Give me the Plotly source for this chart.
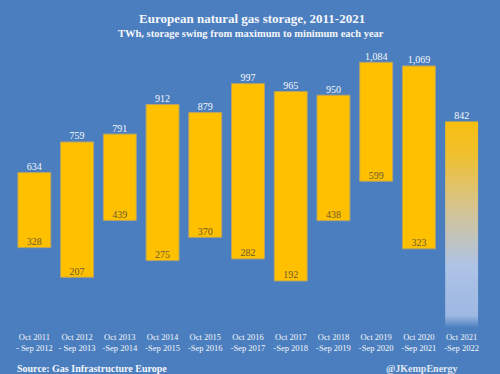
import plotly.graph_objects as go

periods = ["Oct 2011<br>- Sep 2012", "Oct 2012<br>- Sep 2013", "Oct 2013<br>-Sep 2014",
           "Oct 2014<br>-Sep 2015", "Oct 2015<br>-Sep 2016", "Oct 2016<br>-Sep 2017",
           "Oct 2017<br>-Sep 2018", "Oct 2018<br>-Sep 2019", "Oct 2019<br>-Sep 2020",
           "Oct 2020<br>-Sep 2021", "Oct 2021<br>-Sep 2022"]
max_twh = [634, 759, 791, 912, 879, 997, 965, 950, 1084, 1069, 842]
min_twh = [328, 207, 439, 275, 370, 282, 192, 438, 599, 323]

BG = "#4b7ebe"
GOLD = "#ffc000"
FONT = "Liberation Serif"
W = 0.77

idx = list(range(len(periods)))
n_done = len(min_twh)

fig = go.Figure()
fig.add_trace(go.Bar(
    x=idx[:n_done], y=[mx - mn for mx, mn in zip(max_twh[:n_done], min_twh)], base=min_twh,
    width=W, marker=dict(color=GOLD, line=dict(color="#b8a463", width=1)),
    hoverinfo="skip", showlegend=False))

# ongoing year: gradient bar
last = idx[-1]
fig.add_trace(go.Scatter(
    x=[last - W / 2, last + W / 2, last + W / 2, last - W / 2, last - W / 2],
    y=[0, 0, max_twh[-1], max_twh[-1], 0],
    mode="lines", line=dict(width=0), fill="toself",
    fillgradient=dict(type="vertical",
                      colorscale=[[0, BG], [0.06, "#9db8e2"], [0.3, "#aec3e6"],
                                  [0.6, "#d8c48a"], [0.85, "#f0bf2a"], [1, "#f7bf10"]]),
    hoverinfo="skip", showlegend=False))

fig.add_trace(go.Scatter(
    x=idx, y=max_twh, mode="text", text=[f"{v:,}" for v in max_twh],
    textposition="top center", textfont=dict(family=FONT, size=10, color="#f4f6fb"),
    hoverinfo="skip", showlegend=False))
fig.add_trace(go.Scatter(
    x=idx[:n_done], y=min_twh, mode="text", text=[str(v) for v in min_twh],
    textposition="top center", textfont=dict(family=FONT, size=10, color="#6b5a32"),
    hoverinfo="skip", showlegend=False))

fig.update_layout(
    width=500, height=374, paper_bgcolor=BG, plot_bgcolor=BG,
    margin=dict(l=13, r=17, t=40, b=46, autoexpand=False),
    xaxis=dict(range=[-0.5, len(periods) - 0.5], tickvals=idx, ticktext=periods,
               showgrid=False, zeroline=False, showline=False, ticks="",
               tickangle=0, automargin=False, ticklabelstandoff=2,
               tickfont=dict(family=FONT, size=8.5, color="#f4f6fb")),
    yaxis=dict(range=[0, 1175], visible=False, showgrid=False, zeroline=False),
    annotations=[
        dict(text="<b>European natural gas storage, 2011-2021</b>", x=0.508, y=1.076,
             xref="paper", yref="paper", showarrow=False, yanchor="middle",
             font=dict(family=FONT, size=13, color="#f4f6fb")),
        dict(text="<b>TWh, storage swing from maximum to minimum each year</b>", x=0.506, y=1.022,
             xref="paper", yref="paper", showarrow=False, yanchor="middle",
             font=dict(family=FONT, size=10.5, color="#f4f6fb")),
        dict(text="<b>Source: Gas Infrastructure Europe</b>", x=0.004, y=-0.139,
             xref="paper", yref="paper", showarrow=False, xanchor="left", yanchor="middle",
             font=dict(family=FONT, size=10, color="#f4f6fb")),
        dict(text="<b>@JKempEnergy</b>", x=0.79, y=-0.139,
             xref="paper", yref="paper", showarrow=False, xanchor="left", yanchor="middle",
             font=dict(family=FONT, size=10, color="#dfe6f2")),
    ],
)

fig.write_html("out.html", config={"displayModeBar": False},
               post_script="document.body.style.margin='0';document.body.style.background='" + BG + "';")
